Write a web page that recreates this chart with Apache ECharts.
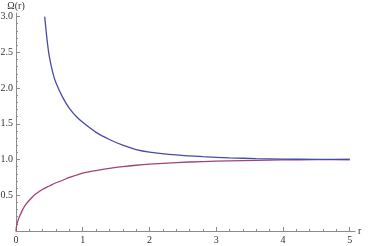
<!DOCTYPE html>
<html>
<head>
<meta charset="utf-8">
<script src="https://cdn.jsdelivr.net/npm/echarts@6/dist/echarts.min.js"></script>
<style>html,body{margin:0;padding:0;background:#fff}#c{width:370px;height:246px}</style>
</head>
<body>
<div id="c"></div>
<script>
// Data
var rBlue = [0.43, 0.45, 0.475, 0.5, 0.55, 0.6, 0.7, 0.8, 0.9, 1.0, 1.2, 1.4, 1.6, 1.8, 2.0, 2.4, 2.8, 3.2, 3.6, 4.0, 4.5, 5.0];
var omegaBlue = [3.0, 2.81, 2.6, 2.44, 2.22, 2.07, 1.87, 1.715, 1.605, 1.52, 1.38, 1.28, 1.2, 1.14, 1.105, 1.065, 1.04, 1.024, 1.013, 1.006, 1.002, 1.0];
var rRed = [0, 0.005, 0.01, 0.02, 0.035, 0.05, 0.075, 0.1, 0.15, 0.2, 0.25, 0.3, 0.4, 0.5, 0.6, 0.7, 0.8, 0.9, 1.0, 1.2, 1.4, 1.6, 1.8, 2.0, 2.4, 2.8, 3.2, 3.6, 4.0, 4.5, 5.0];
var omegaRed = [0, 0.05, 0.075, 0.115, 0.16, 0.2, 0.25, 0.3, 0.375, 0.43, 0.48, 0.52, 0.585, 0.63, 0.675, 0.71, 0.75, 0.78, 0.81, 0.845, 0.875, 0.9, 0.92, 0.935, 0.957, 0.972, 0.982, 0.989, 0.994, 0.998, 1.0];
var xMajor = [0, 1, 2, 3, 4, 5];
var xMinor = [0.2, 0.4, 0.6, 0.8, 1.2, 1.4, 1.6, 1.8, 2.2, 2.4, 2.6, 2.8, 3.2, 3.4, 3.6, 3.8, 4.2, 4.4, 4.6, 4.8];
var yMajor = [0.5, 1.0, 1.5, 2.0, 2.5, 3.0];
var yMinor = [0.1, 0.2, 0.3, 0.4, 0.6, 0.7, 0.8, 0.9, 1.1, 1.2, 1.3, 1.4, 1.6, 1.7, 1.8, 1.9, 2.1, 2.2, 2.3, 2.4, 2.6, 2.7, 2.8, 2.9];

function zip(a, b) { return a.map(function (v, i) { return [v, b[i]]; }); }

var font = { fontFamily: 'Liberation Serif', fontSize: 10, color: '#333' };
var axisColor = '#8c8c8c';

var chart = echarts.init(document.getElementById('c'), null, { renderer: 'canvas' });
chart.setOption({
  animation: false,
  grid: { left: 16, right: 15, top: 13, bottom: 15, containLabel: false, outerBoundsMode: 'none' },
  xAxis: [{
    type: 'value', min: 0, max: 5.08,
    name: 'r', nameLocation: 'end', nameGap: 3,
    nameTextStyle: { fontFamily: 'Liberation Serif', fontSize: 10, color: '#333', verticalAlign: 'middle' },
    axisLine: { show: true, lineStyle: { color: axisColor, width: 1 } },
    axisTick: { show: true, inside: true, length: 4, customValues: xMajor, lineStyle: { color: axisColor } },
    axisLabel: Object.assign({ customValues: xMajor, margin: 4, formatter: function (v) { return String(v); } }, font),
    splitLine: { show: false }
  }, {
    type: 'value', min: 0, max: 5.08, position: 'bottom',
    axisLine: { show: false },
    axisTick: { show: true, inside: true, length: 2, customValues: xMinor, lineStyle: { color: axisColor } },
    axisLabel: { show: false },
    splitLine: { show: false }
  }],
  yAxis: [{
    type: 'value', min: 0, max: 3.05,
    name: 'Ω(r)', nameLocation: 'end', nameGap: 2,
    nameTextStyle: { fontFamily: 'Liberation Serif', fontSize: 10, color: '#333', align: 'center' },
    axisLine: { show: true, lineStyle: { color: axisColor, width: 1 } },
    axisTick: { show: true, inside: true, length: 4, customValues: yMajor, lineStyle: { color: axisColor } },
    axisLabel: Object.assign({ customValues: yMajor, margin: 3, formatter: function (v) { return v.toFixed(1); } }, font),
    splitLine: { show: false }
  }, {
    type: 'value', min: 0, max: 3.05, position: 'left',
    axisLine: { show: false },
    axisTick: { show: true, inside: true, length: 2, customValues: yMinor, lineStyle: { color: axisColor } },
    axisLabel: { show: false },
    splitLine: { show: false }
  }],
  series: [{
    type: 'line', data: zip(rBlue, omegaBlue), smooth: 0.25, showSymbol: false,
    lineStyle: { color: '#4a4aa8', width: 1.3 }, z: 3
  }, {
    type: 'line', data: zip(rRed, omegaRed), smooth: 0.25, showSymbol: false,
    lineStyle: { color: '#a04478', width: 1.3 }, z: 2
  }]
});
</script>
</body>
</html>
